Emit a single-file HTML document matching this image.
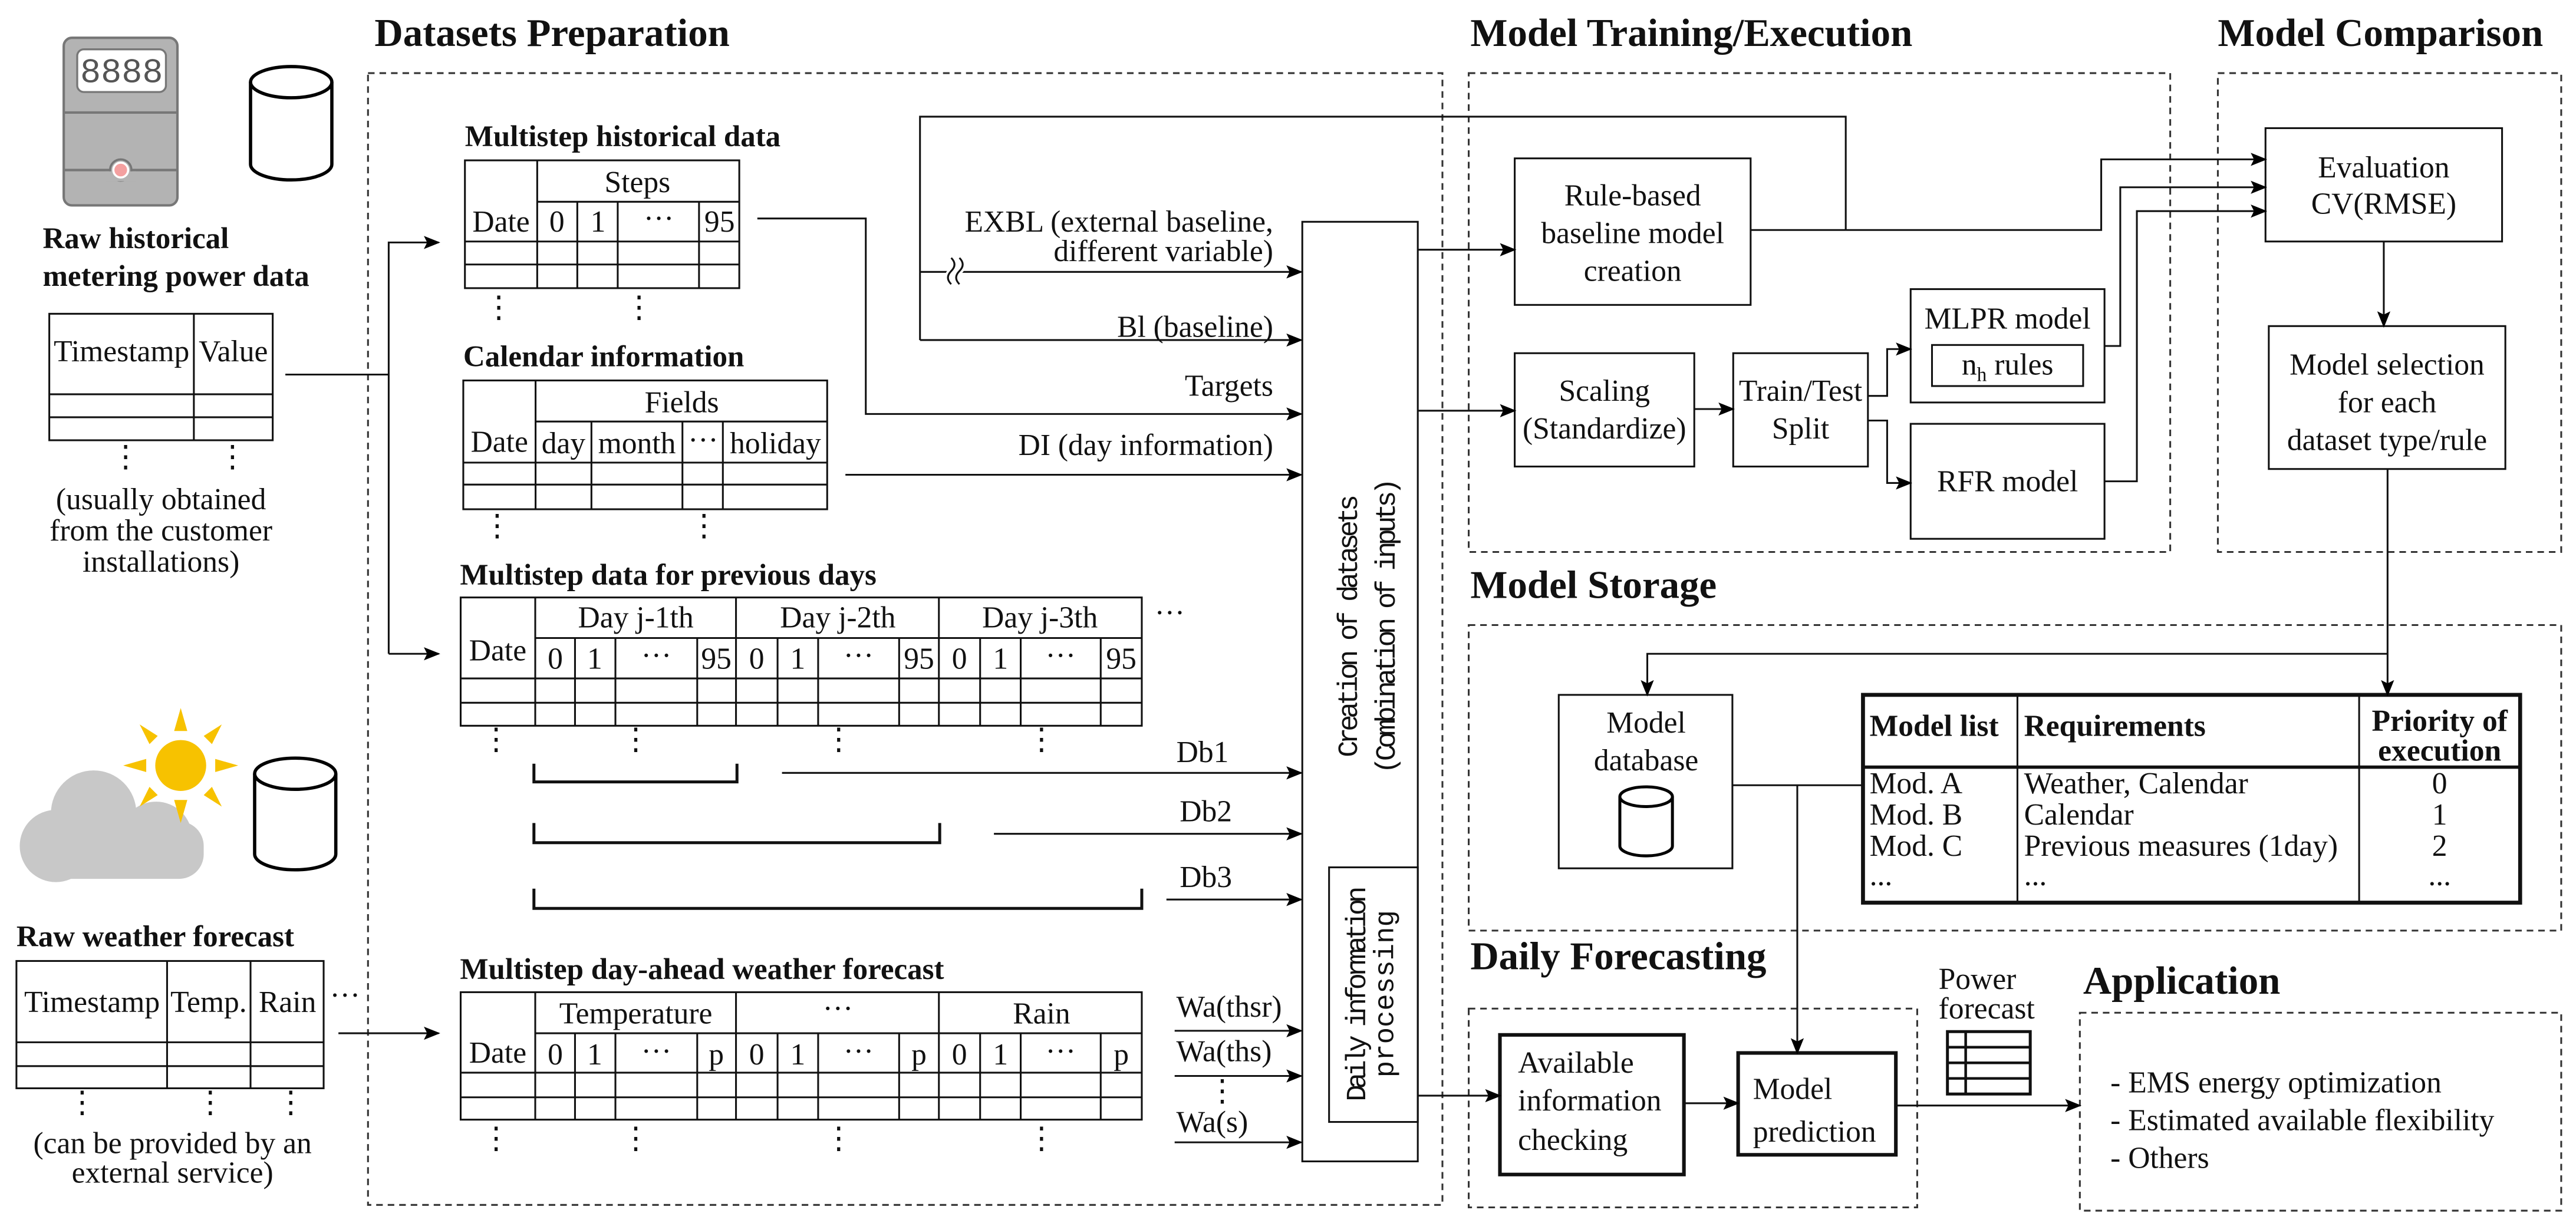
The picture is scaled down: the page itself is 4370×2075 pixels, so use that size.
<!DOCTYPE html>
<html><head><meta charset="utf-8"><style>
html,body{margin:0;padding:0;background:#fff;}
svg{display:block}
text{font-family:"Liberation Serif",serif;fill:#111;font-size:18.5px}
.b{font-weight:bold}
.t{font-weight:bold;font-size:24px}
.m{text-anchor:middle}
.e{text-anchor:end}
.s{font-weight:bold;font-size:18.3px}
</style></head><body>
<svg width="4370" height="2075" viewBox="0 0 1568 744.5" xmlns="http://www.w3.org/2000/svg">
<defs>
<marker id="a" markerWidth="10" markerHeight="8" refX="9" refY="4" orient="auto" markerUnits="userSpaceOnUse"><path d="M0,0 L10,4 L0,8 L2,4 Z" fill="#000"/></marker>
</defs>
<g fill="none" stroke="#111" stroke-width="1.1">
<g stroke-dasharray="4,3" stroke="#333">
<rect x="224" y="44.5" width="654" height="689"/>
<rect x="894" y="44.5" width="427" height="291.5"/>
<rect x="1350" y="44.5" width="209" height="291.5"/>
<rect x="894" y="380.5" width="665" height="186"/>
<rect x="894" y="614" width="273" height="121"/>
<rect x="1266" y="616.5" width="293" height="120.5"/>
</g>
<rect x="792.7" y="135" width="70.3" height="572"/>
<rect x="809" y="528" width="54" height="155"/>
<rect x="922" y="96.4" width="143.6" height="89.2"/>
<rect x="922" y="215" width="109.3" height="69"/>
<rect x="1055" y="215" width="82" height="69"/>
<rect x="1163" y="176" width="118" height="69"/>
<rect x="1176" y="210" width="92" height="25"/>
<rect x="1163" y="258" width="118" height="70"/>
<rect x="1379" y="78" width="144" height="69"/>
<rect x="1381" y="198.5" width="144" height="87"/>
<rect x="948.8" y="423" width="105.7" height="105.6"/>
<rect x="1134" y="423" width="400" height="126.5" stroke-width="2.4"/>
<line x1="1134" y1="467" x2="1534" y2="467" stroke-width="2"/>
<line x1="1228" y1="423" x2="1228" y2="549.5"/>
<line x1="1436" y1="423" x2="1436" y2="549.5"/>
<rect x="913" y="630" width="112" height="85" stroke-width="2.2"/>
<rect x="1058" y="641" width="96" height="62" stroke-width="2.2"/>
<rect x="1185.4" y="628" width="50.4" height="38" stroke-width="1.8"/>
<line x1="1185.4" y1="637.5" x2="1235.8" y2="637.5" stroke-width="1.6"/>
<line x1="1185.4" y1="647" x2="1235.8" y2="647" stroke-width="1.6"/>
<line x1="1185.4" y1="656.5" x2="1235.8" y2="656.5" stroke-width="1.6"/>
<line x1="1196.5" y1="628" x2="1196.5" y2="666" stroke-width="1.6"/>

<path d="M560,207 V71 H1123.5 V140"/>
<path d="M560,207 H792" marker-end="url(#a)"/>
<path d="M560,165.5 H792" marker-end="url(#a)"/>
<path d="M461,133 H527 V252 H792" marker-end="url(#a)"/>
<path d="M514.6,289 H792" marker-end="url(#a)"/>
<path d="M863,152 H922" marker-end="url(#a)"/>
<path d="M863,250 H922" marker-end="url(#a)"/>
<path d="M1031.3,249 H1055" marker-end="url(#a)"/>
<path d="M1137,241 H1148.7 V212.5 H1163" marker-end="url(#a)"/>
<path d="M1137,256 H1148.7 V294 H1163" marker-end="url(#a)"/>
<path d="M1065.6,140 H1279 V97 H1379" marker-end="url(#a)"/>
<path d="M1281,210.6 H1290.6 V114 H1379" marker-end="url(#a)"/>
<path d="M1281,293 H1300.7 V128.5 H1379" marker-end="url(#a)"/>
<path d="M1451,147 V198.5" marker-end="url(#a)"/>
<path d="M1453.3,285.6 V423" marker-end="url(#a)"/>
<path d="M1453.3,398 H1002.7 V423" marker-end="url(#a)"/>
<path d="M1054.5,478 H1134"/>
<path d="M1094,478 V641" marker-end="url(#a)"/>
<path d="M863,667 H913" marker-end="url(#a)"/>
<path d="M1025,671.6 H1058" marker-end="url(#a)"/>
<path d="M1154,673 H1266" marker-end="url(#a)"/>
<path d="M173.7,228 H236.6"/>
<path d="M236.6,398 V147.6 H267" marker-end="url(#a)"/>
<path d="M236.6,398 H267" marker-end="url(#a)"/>
<path d="M206,629 H267" marker-end="url(#a)"/>
<path d="M476,470.5 H792" marker-end="url(#a)"/>
<path d="M605,507.6 H792" marker-end="url(#a)"/>
<path d="M710,547.6 H792" marker-end="url(#a)"/>
<path d="M715,627.5 H792" marker-end="url(#a)"/>
<path d="M715,655 H792" marker-end="url(#a)"/>
<path d="M715,695.4 H792" marker-end="url(#a)"/>
<path d="M325,464.9 V476 H448.6 V464.9" stroke-width="1.8"/>
<path d="M325,501 V513 H572 V501" stroke-width="1.8"/>
<path d="M325,541 V553 H695 V541" stroke-width="1.8"/>
<path d="M579,157 q4,4 0,8 q-4,4 0,8 M584,157 q4,4 0,8 q-4,4 0,8" stroke="#fff" stroke-width="4"/>
<path d="M579,157 q4,4 0,8 q-4,4 0,8 M584,157 q4,4 0,8 q-4,4 0,8"/>

<rect x="283" y="97.6" width="167" height="77.8"/>
<path d="M327,122.8 H450 M283,147 H450 M283,161 H450 M327,97.6 V175.4 M351.4,122.8 V175.4 M376,122.8 V175.4 M425.5,122.8 V175.4"/>
<rect x="282" y="231.6" width="221.5" height="78.4"/>
<path d="M326,256.6 H503.5 M282,281.6 H503.5 M282,295 H503.5 M326,231.6 V310 M360,256.6 V310 M415.4,256.6 V310 M440,256.6 V310"/>
<rect x="280.4" y="363.7" width="414.6" height="78.1"/>
<path d="M325.8,388.4 H695 M280.4,413 H695 M280.4,427.8 H695 M325.8,363.7 V441.8 M448,363.7 V441.8 M571.5,363.7 V441.8 M350,388.4 V441.8 M374.6,388.4 V441.8 M424.4,388.4 V441.8 M473.3,388.4 V441.8 M498,388.4 V441.8 M547.3,388.4 V441.8 M596.6,388.4 V441.8 M621.3,388.4 V441.8 M670,388.4 V441.8"/>
<rect x="280.4" y="604" width="414.6" height="77.6"/>
<path d="M325.8,629 H695 M280.4,653 H695 M280.4,668 H695 M325.8,604 V681.6 M448,604 V681.6 M571.5,604 V681.6 M350,629 V681.6 M374.6,629 V681.6 M424.4,629 V681.6 M473.3,629 V681.6 M498,629 V681.6 M547.3,629 V681.6 M596.6,629 V681.6 M621.3,629 V681.6 M670,629 V681.6"/>
<rect x="30" y="191" width="136" height="77"/>
<path d="M30,240 H166 M30,254 H166 M118,191 V268"/>
<rect x="10" y="585" width="187" height="77.5"/>
<path d="M10,634.5 H197 M10,649 H197 M101.7,585 V662.5 M152.5,585 V662.5"/>
</g>

<g>
<rect x="38.8" y="23" width="69.2" height="102" rx="5" fill="#b3b3b3" stroke="#777" stroke-width="1.5"/>
<rect x="47" y="30" width="54" height="26" rx="4" fill="#fff" stroke="#777" stroke-width="1.2"/>
<text x="74" y="50" class="m" style="font-family:'Liberation Mono',monospace;font-size:21px;fill:#555">8888</text>
<line x1="39" y1="68.5" x2="108" y2="68.5" stroke="#777" stroke-width="1.5"/>
<line x1="39" y1="103.5" x2="108" y2="103.5" stroke="#777" stroke-width="1.5"/>
<circle cx="73.5" cy="103.5" r="6.5" fill="#b3b3b3" stroke="#777" stroke-width="1.3"/>
<rect x="64" y="104.3" width="19" height="6" fill="#b3b3b3"/>
<circle cx="73.5" cy="103.5" r="4.5" fill="#f4a0a0" stroke="#fff" stroke-width="1.3"/>
<path d="M152.5,50 V100 A24.75,9.5 0 0 0 202,100 V50" fill="#fff" stroke="#000" stroke-width="2"/>
<ellipse cx="177.25" cy="50" rx="24.75" ry="9.5" fill="#fff" stroke="#000" stroke-width="2"/>
<g fill="#c8c8c8">
<circle cx="57" cy="495" r="26"/>
<circle cx="34" cy="515" r="22"/>
<circle cx="95" cy="510" r="22"/>
<rect x="14" y="500" width="110" height="35" rx="15"/>
</g>
<g fill="#f7c200">
<circle cx="110" cy="466" r="15.5"/>
<path d="M110,431 L106,445 L114,445Z M110,501 L106,487 L114,487Z M75,466 L89,462 L89,470Z M145,466 L131,462 L131,470Z M85,441 L96,448 L91,453Z M135,441 L124,448 L129,453Z M85,491 L96,484 L91,479Z M135,491 L124,484 L129,479Z"/>
</g>
<path d="M155,471 V520 A24.7,9.5 0 0 0 204.4,520 V471" fill="#fff" stroke="#000" stroke-width="2"/>
<ellipse cx="179.7" cy="471" rx="24.7" ry="9.5" fill="#fff" stroke="#000" stroke-width="2"/>
<path d="M986,485 V515 A16,6 0 0 0 1018,515 V485" fill="#fff" stroke="#000" stroke-width="1.8"/>
<ellipse cx="1002" cy="485" rx="16" ry="6" fill="#fff" stroke="#000" stroke-width="1.8"/>
</g>

<text x="228" y="28" class="t">Datasets Preparation</text>
<text x="895" y="28" class="t">Model Training/Execution</text>
<text x="1350" y="28" class="t">Model Comparison</text>
<text x="895" y="364" class="t">Model Storage</text>
<text x="895" y="590" class="t">Daily Forecasting</text>
<text x="1268" y="605" class="t">Application</text>

<text x="26" y="151" class="s">Raw historical</text>
<text x="26" y="174" class="s">metering power data</text>
<text x="74" y="220" class="m">Timestamp</text>
<text x="142" y="220" class="m">Value</text>
<text x="76.5" y="284" class="m">⋮</text><text x="141.5" y="284" class="m">⋮</text>
<text x="98" y="310" class="m">(usually obtained</text>
<text x="98" y="329" class="m">from the customer</text>
<text x="98" y="348" class="m">installations)</text>

<text x="10" y="576" class="s">Raw weather forecast</text>
<text x="56" y="616" class="m">Timestamp</text>
<text x="127" y="616" class="m">Temp.</text>
<text x="175" y="616" class="m">Rain</text>
<text x="210" y="612" class="m">···</text>
<text x="50" y="677" class="m">⋮</text><text x="128" y="677" class="m">⋮</text><text x="177" y="677" class="m">⋮</text>
<text x="105" y="702" class="m">(can be provided by an</text>
<text x="105" y="720" class="m">external service)</text>

<text x="283" y="89" class="s">Multistep historical data</text>
<text x="305" y="141" class="m">Date</text>
<text x="388" y="117" class="m">Steps</text>
<text x="339" y="141" class="m">0</text><text x="364" y="141" class="m">1</text><text x="401" y="139" class="m">···</text><text x="438" y="141" class="m">95</text>
<text x="303.6" y="193" class="m">⋮</text><text x="389" y="193" class="m">⋮</text>

<text x="282" y="223" class="s">Calendar information</text>
<text x="304" y="275" class="m">Date</text>
<text x="415" y="251" class="m">Fields</text>
<text x="343" y="276" class="m">day</text><text x="387.7" y="276" class="m">month</text><text x="428" y="274" class="m">···</text><text x="472" y="276" class="m">holiday</text>
<text x="302.6" y="326" class="m">⋮</text><text x="428.5" y="326" class="m">⋮</text>

<text x="280" y="356" class="s">Multistep data for previous days</text>
<text x="303" y="402" class="m">Date</text>
<text x="387" y="382" class="m">Day j-1th</text><text x="510" y="382" class="m">Day j-2th</text><text x="633" y="382" class="m">Day j-3th</text>
<text x="712" y="379" class="m">···</text>
<text x="338" y="407" class="m">0</text><text x="362" y="407" class="m">1</text><text x="399.5" y="405" class="m">···</text><text x="436" y="407" class="m">95</text>
<text x="460.6" y="407" class="m">0</text><text x="485.6" y="407" class="m">1</text><text x="522.6" y="405" class="m">···</text><text x="559.4" y="407" class="m">95</text>
<text x="584" y="407" class="m">0</text><text x="609" y="407" class="m">1</text><text x="645.6" y="405" class="m">···</text><text x="682.5" y="407" class="m">95</text>
<text x="302" y="456" class="m">⋮</text><text x="387" y="456" class="m">⋮</text><text x="510.5" y="456" class="m">⋮</text><text x="634" y="456" class="m">⋮</text>

<text x="280" y="596" class="s">Multistep day-ahead weather forecast</text>
<text x="303" y="647" class="m">Date</text>
<text x="387" y="623" class="m">Temperature</text><text x="510" y="620" class="m">···</text><text x="634" y="623" class="m">Rain</text>
<text x="338" y="648" class="m">0</text><text x="362" y="648" class="m">1</text><text x="399.5" y="646" class="m">···</text><text x="436" y="648" class="m">p</text>
<text x="460.6" y="648" class="m">0</text><text x="485.6" y="648" class="m">1</text><text x="522.6" y="646" class="m">···</text><text x="559.4" y="648" class="m">p</text>
<text x="584" y="648" class="m">0</text><text x="609" y="648" class="m">1</text><text x="645.6" y="646" class="m">···</text><text x="682.5" y="648" class="m">p</text>
<text x="302" y="699" class="m">⋮</text><text x="387" y="699" class="m">⋮</text><text x="510.5" y="699" class="m">⋮</text><text x="634" y="699" class="m">⋮</text>

<text x="775" y="141" class="e">EXBL (external baseline,</text>
<text x="775" y="159" class="e">different variable)</text>
<text x="775" y="205" class="e">Bl (baseline)</text>
<text x="775" y="241" class="e">Targets</text>
<text x="775" y="277" class="e">DI (day information)</text>
<text x="732" y="464" class="m">Db1</text>
<text x="734" y="500" class="m">Db2</text>
<text x="734" y="540" class="m">Db3</text>
<text x="716" y="619">Wa(thsr)</text>
<text x="716" y="646">Wa(ths)</text>
<text x="744" y="670" class="m">⋮</text>
<text x="716" y="689">Wa(s)</text>

<text transform="rotate(-90 826 381)" x="826" y="381" class="m" style="font-family:'Liberation Mono',monospace;font-size:17px" textLength="160">Creation of datasets</text>
<text transform="rotate(-90 849 381)" x="849" y="381" class="m" style="font-family:'Liberation Mono',monospace;font-size:17px" textLength="180">(Combination of inputs)</text>
<text transform="rotate(-90 831 605)" x="831" y="605" class="m" style="font-family:'Liberation Mono',monospace;font-size:17px" textLength="131">Daily information</text>
<text transform="rotate(-90 848 605)" x="848" y="605" class="m" style="font-family:'Liberation Mono',monospace;font-size:17px">processing</text>

<text x="993.8" y="125" class="m">Rule-based</text>
<text x="993.8" y="148" class="m">baseline model</text>
<text x="993.8" y="171" class="m">creation</text>
<text x="976.6" y="244" class="m">Scaling</text>
<text x="976.6" y="267" class="m">(Standardize)</text>
<text x="1096" y="244" class="m">Train/Test</text>
<text x="1096" y="267" class="m">Split</text>
<text x="1222" y="200" class="m">MLPR model</text>
<text x="1222" y="228" class="m">n<tspan dy="4" style="font-size:12px">h</tspan><tspan dy="-4"> rules</tspan></text>
<text x="1222" y="299" class="m">RFR model</text>
<text x="1451" y="108" class="m">Evaluation</text>
<text x="1451" y="130" class="m">CV(RMSE)</text>
<text x="1453" y="228" class="m">Model selection</text>
<text x="1453" y="251" class="m">for each</text>
<text x="1453" y="274" class="m">dataset type/rule</text>

<text x="1002" y="446" class="m">Model</text>
<text x="1002" y="469" class="m">database</text>
<text x="1138" y="448" class="b">Model list</text>
<text x="1232" y="448" class="b">Requirements</text>
<text x="1485" y="445" class="m b">Priority of</text>
<text x="1485" y="463" class="m b">execution</text>
<text x="1138" y="483">Mod. A</text><text x="1232" y="483">Weather, Calendar</text><text x="1485" y="483" class="m">0</text>
<text x="1138" y="502">Mod. B</text><text x="1232" y="502">Calendar</text><text x="1485" y="502" class="m">1</text>
<text x="1138" y="521">Mod. C</text><text x="1232" y="521">Previous measures (1day)</text><text x="1485" y="521" class="m">2</text>
<text x="1138" y="539">...</text><text x="1232" y="539">...</text><text x="1485" y="539" class="m">...</text>

<text x="924" y="653">Available</text>
<text x="924" y="676">information</text>
<text x="924" y="700">checking</text>
<text x="1067" y="669">Model</text>
<text x="1067" y="695">prediction</text>
<text x="1180" y="602">Power</text>
<text x="1180" y="620">forecast</text>
<text x="1284.6" y="665">- EMS energy optimization</text>
<text x="1284.6" y="688">- Estimated available flexibility</text>
<text x="1284.6" y="711">- Others</text>
</svg>
</body></html>
